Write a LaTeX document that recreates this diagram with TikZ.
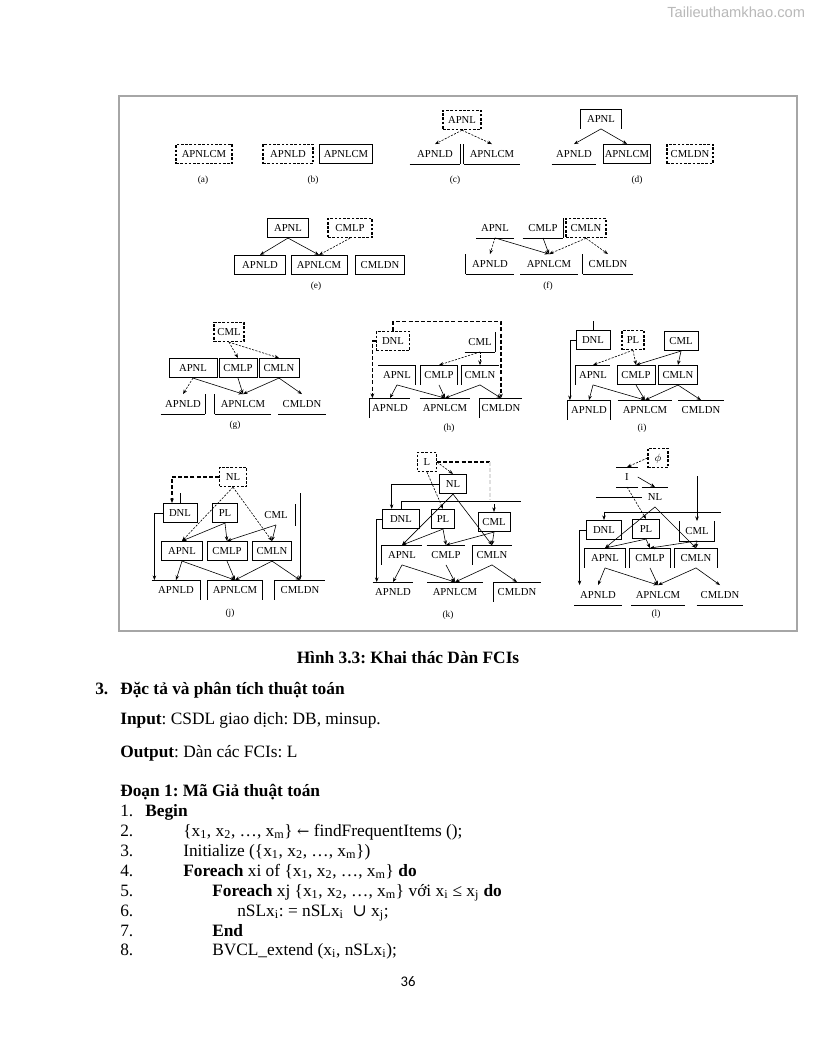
\documentclass[tikz,border=0pt]{standalone}
\usepackage{fontspec}
\setmainfont{Liberation Serif}
\newfontfamily\symfont{DejaVu Serif}
\newfontfamily\pagefont{Carlito}
\newfontfamily\wmfont{Liberation Sans}
\usetikzlibrary{arrows.meta,calc}
\frenchspacing
\newcommand{\ff}{\fontsize{8}{9}\selectfont}
\newcommand{\sbs}[1]{\textsubscript{#1}}
\newcommand{\edgeS}[1]{\draw[ln] (#1.south west) -- (#1.south east);}
\newcommand{\edgeN}[1]{\draw[ln] (#1.north west) -- (#1.north east);}
\newcommand{\edgeW}[1]{\draw[ln] (#1.north west) -- (#1.south west);}
\newcommand{\edgeE}[1]{\draw[ln] (#1.north east) -- (#1.south east);}
\begin{document}
\begin{tikzpicture}[x=0.75pt,y=-0.75pt,
  nd/.style={font=\ff, inner sep=0pt, minimum height=14.5pt, text height=5.4pt, text depth=0pt, minimum width={#1*0.75pt}},
  nd/.default=40,
  sb/.style={nd=#1, draw, line width=0.6pt}, sb/.default=40,
  db/.style={nd=#1, draw, dash pattern=on 2pt off 1.2pt, line width=0.8pt}, db/.default=40,
  ln/.style={line width=0.6pt},
  ar/.style={line width=0.45pt, -{Stealth[length=3.4pt,width=2.6pt]}},
  da/.style={ar, dash pattern=on 1.6pt off 1pt},
  dl/.style={line width=0.9pt, dash pattern=on 3pt off 1.6pt},
  dla/.style={dl, -{Stealth[length=3.4pt,width=2.8pt]}},
  plbl/.style={font=\fontsize{7}{8}\selectfont, inner sep=0pt},
  body/.style={font=\fontsize{13}{15}\selectfont, inner sep=0pt, anchor=base west}]
\useasboundingbox (0,0) rectangle (816,1056);
\fill[white] (0,0) rectangle (816,1056);
\node[anchor=base west, inner sep=0pt, font=\wmfont\fontsize{11}{13}\selectfont, text=gray!55] (wm) at (667,18) {Tailieuthamkhao.com};
\draw[line width=0.8pt, draw=gray!70] (119,96) rectangle (797,631);

% (a)
\node[db=56] (a1) at (204,154) {APNLCM};
\node[plbl] (la) at (203,180) {(a)};
% (b)
\node[db=50, line width=1.1pt] (b1) at (288,154) {APNLD};
\node[sb=53] (b2) at (346,154) {APNLCM};
\node[plbl] (lb) at (313,180) {(b)};
% (c)
\node[db=38] (c0) at (462,120) {APNL};
\node[nd=50] (c1) at (435,154) {APNLD}; \edgeS{c1}\edgeE{c1}
\node[nd=56] (c2) at (492,154) {APNLCM}; \edgeW{c2}\edgeS{c2}
\draw[da] (c0.south) -- (c1.north);
\draw[da] (c0.south) -- (c2.north);
\node[plbl] (lc) at (455,180) {(c)};
% (d)
\node[nd=40] (d0) at (601,119) {APNL}; \edgeN{d0}\edgeW{d0}\edgeE{d0}
\node[nd=44] (d1) at (574,154) {APNLD}; \edgeS{d1}
\node[sb=47] (d2) at (627,154) {APNLCM};
\node[db=46] (d3) at (690,154) {CMLDN};
\draw[ar] (d0.south) -- (d1.north);
\draw[ar] (d0.south) -- (d2.north);
\node[plbl] (ld) at (637,180) {(d)};

% (e)
\node[sb=41] (e0) at (288,228) {APNL};
\node[db=44] (e1) at (350,228) {CMLP};
\node[sb=51] (e2) at (260,265) {APNLD};
\node[sb=56] (e3) at (319,265) {APNLCM};
\node[sb=49] (e4) at (380,265) {CMLDN};
\draw[ar] (e0.south) -- (e2.north);
\draw[ar] (e0.south) -- (e3.north);
\draw[da] (e1.south) -- (e3.north);
\node[plbl] (le) at (316,286) {(e)};
% (f)
\node[nd=37] (f0) at (495,228) {APNL}; \edgeS{f0}
\node[nd=40] (f1) at (543,228) {CMLP}; \edgeS{f1}\edgeE{f1}
\node[db=40] (f2) at (586,228) {CMLN};
\node[nd=48] (f3) at (490,264) {APNLD}; \edgeW{f3}\edgeS{f3}
\node[nd=57] (f4) at (549,264) {APNLCM}; \edgeS{f4}
\node[nd=50] (f5) at (608,264) {CMLDN}; \edgeW{f5}\edgeS{f5}
\draw[da] (f0.south) -- (f3.north);
\draw[ar] (f0.south) -- (f4.north);
\draw[ar] (f1.south) -- (f4.north);
\draw[da] (f2.south) -- (f4.north);
\draw[da] (f2.south) -- (f5.north);
\node[plbl] (lf) at (548,286) {(f)};

% (g)
\node[db=30] (g0) at (229,332) {CML};
\node[sb=48] (g1) at (193,368) {APNL};
\node[sb=38] (g2) at (238,368) {CMLP};
\node[sb=40] (g3) at (279,368) {CMLN};
\node[nd=44] (g4) at (183,404) {APNLD}; \edgeS{g4}\edgeE{g4}
\node[nd=56] (g5) at (243,404) {APNLCM}; \edgeW{g5}\edgeS{g5}
\node[nd=47] (g6) at (302,404) {CMLDN}; \edgeS{g6}
\draw[da] (g0.south) -- (g2.north);
\draw[da] (g0.south) -- (g3.north);
\draw[da] (g1.south) -- (g4.north);
\draw[ar] (g1.south) -- (g5.north);
\draw[ar] (g2.south) -- (g5.north);
\draw[ar] (g3.south) -- (g5.north);
\draw[ar] (g3.south) -- (g6.north);
\node[plbl] (lg) at (235,425) {(g)};
% (h)
\node[db=33] (h0) at (393,341) {DNL};
\node[nd=30] (h1) at (480,342) {CML}; \edgeS{h1}\edgeE{h1}
\node[nd=37] (h2) at (397,375) {APNL}; \edgeN{h2}\edgeE{h2}
\node[nd=37] (h3) at (439,375) {CMLP}; \edgeN{h3}\edgeW{h3}\edgeE{h3}
\node[nd=37] (h4) at (480,375) {CMLN}; \edgeN{h4}\edgeW{h4}
\node[nd=40] (h5) at (390,408) {APNLD}; \edgeN{h5}\edgeW{h5}
\node[nd=50] (h6) at (445,408) {APNLCM}; \edgeN{h6}
\node[nd=42] (h7) at (501,408) {CMLDN}; \edgeN{h7}\edgeW{h7}
\draw[dla] (h0.north) -- ++(0,-9) -| (h7.north);
\draw[dla] (h0.west) -| ([xshift=2pt]h5.north west);
\draw[da] (h1.south) -- (h3.north);
\draw[da] (h1.south) -- (h4.north);
\draw[ar] (h2.south) -- (h5.north);
\draw[ar] (h2.south) -- (h6.north);
\draw[ar] (h3.south) -- (h6.north);
\draw[ar] (h4.south) -- (h6.north);
\draw[ar] (h4.south) -- (h7.north);
\node[plbl] (lh) at (449,428) {(h)};
% (i)
\node[sb=34] (i0) at (593,340) {DNL}; \draw[ln] (i0.north) -- ++(0,-9);
\node[db=22] (i1) at (633,340) {PL};
\node[sb=34] (i2) at (681,341) {CML};
\node[nd=34] (i3) at (593,375) {APNL}; \edgeW{i3}\edgeN{i3}
\node[sb=38] (i4) at (636,375) {CMLP};
\node[sb=39] (i5) at (678,375) {CMLN};
\node[nd=43] (i6) at (589,410) {APNLD}; \edgeW{i6}\edgeN{i6}\edgeE{i6}
\node[nd=54] (i7) at (645,410) {APNLCM}; \edgeN{i7}
\node[nd=45] (i8) at (701,410) {CMLDN}; \edgeN{i8}
\draw[ar] (i0.west) -| ([xshift=2pt]i6.north west);
\draw[da] (i1.south) -- (i3.north);
\draw[da] (i1.south) -- (i4.north);
\draw[ar] (i2.south) -- (i4.north);
\draw[ar] (i2.south) -- (i5.north);
\draw[ar] (i3.south) -- (i6.north);
\draw[ar] (i3.south) -- (i7.north);
\draw[ar] (i4.south) -- (i7.north);
\draw[ar] (i5.south) -- (i7.north);
\draw[ar] (i5.south) -- (i8.north);
\node[plbl] (li) at (642,428) {(i)};

% (j)
\node[db=27] (j0) at (233,477) {NL};
\node[sb=34] (j1) at (180,513) {DNL}; \draw[ln] (j1.north) -- ++(0,-10);
\node[sb=25] (j2) at (225,513) {PL};
\node[nd=26] (j3) at (276,515) {CML}; \draw[ln] ($(j3.east)+(6,-11)$) -- ++(0,22);
\node[sb=41] (j4) at (182,551) {APNL};
\node[sb=40] (j5) at (227,551) {CMLP};
\node[sb=39] (j6) at (272,551) {CMLN};
\node[nd=48] (j7) at (176,590) {APNLD}; \edgeN{j7}\edgeE{j7}
\node[nd=54] (j8) at (235,590) {APNLCM}; \edgeW{j8}\edgeN{j8}\edgeE{j8}
\node[nd=50] (j9) at (300,590) {CMLDN}; \edgeN{j9}\edgeW{j9}
\draw[dla] (j0.west) -| ([xshift=-6pt]j1.north);
\draw[ar] (j1.west) -| ([xshift=2pt]j7.north west);
\draw[ar] ($(j9.north)+(0,-87)$) -- (j9.north);
\draw[da] (j0.south) -- (j4.north);
\draw[da] (j0.south) -- (j6.north);
\draw[ar] (j2.south) -- (j4.north);
\draw[ar] (j2.south) -- (j5.north);
\draw[ar] (j3.south) -- (j5.north);
\draw[ar] (j3.south) -- (j6.north);
\draw[ar] (j4.south) -- (j7.north);
\draw[ar] (j4.south) -- (j8.north);
\draw[ar] (j5.south) -- (j8.north);
\draw[ar] (j6.south) -- (j8.north);
\draw[ar] (j6.south) -- (j9.north);
\node[plbl] (lj) at (230,613) {(j)};
% (k)
\node[db=19] (k0) at (427,462) {L};
\node[sb=27] (k1) at (453,484) {NL};
\node[sb=37] (k2) at (401,519) {DNL};
\node[sb=23] (k3) at (443,519) {PL};
\node[sb=32] (k4) at (494,522) {CML};
\node[nd=40] (k5) at (402,555) {APNL}; \edgeN{k5}\edgeW{k5}
\node[nd=38] (k6) at (446,555) {CMLP}; \edgeN{k6}
\node[nd=39] (k7) at (492,555) {CMLN}; \edgeN{k7}\edgeW{k7}
\node[nd=40] (k8) at (393,592) {APNLD}; \edgeN{k8}
\node[nd=55] (k9) at (455,592) {APNLCM}; \edgeN{k9}
\node[nd=47] (k10) at (517,592) {CMLDN}; \edgeN{k10}\edgeW{k10}
\draw[dl] (k0.east) -- ++(53,0);
\draw[dl, draw=gray!25] ($(k0.east)+(53,0)$) -- ++(0,38);
\draw[da] (k0.east) -- (k1.north);
\draw[da] (k0.south) -- (k3.north);
\draw[ar] (k1.west) -| ([xshift=-7pt]k2.north);
\draw[ln] (k2.north) -- ++(0,-8) -- ++(120,0);
\draw[ar] (k4.north) ++(0,-8) -- (k4.north);
\draw[ar] (k2.west) -| ([xshift=3pt]k8.north west);
\draw[ar] (k1.south) -- (k5.north);
\draw[ar] (k1.south) -- (k7.north);
\draw[ar] (k3.south) -- (k5.north);
\draw[ar] (k3.south) -- (k6.north);
\draw[ar] (k4.south) -- (k6.north);
\draw[ar] (k4.south) -- (k7.north);
\draw[ar] (k5.south) -- (k8.north);
\draw[ar] (k5.south) -- (k9.north);
\draw[ar] (k6.south) -- (k9.north);
\draw[ar] (k7.south) -- (k9.north);
\draw[ar] (k7.south) -- (k10.north);
\node[plbl] (lk) at (448,615) {(k)};
% (l)
\node[db=20] (l0) at (658,458) {$\phi$};
\node[nd=21] (l1) at (627,477) {I}; \edgeN{l1}\edgeS{l1}
\node[nd=26] (l2) at (655,497) {NL}; \edgeN{l2}\draw[ln] (l2.west) -- ++(-46,0);
\node[sb=35] (l3) at (604,530) {DNL};
\node[sb=27] (l4) at (646,529) {PL};
\node[nd=35] (l5) at (697,531) {CML}; \edgeW{l5}\edgeS{l5}\edgeE{l5}
\node[nd=40] (l6) at (605,558) {APNL}; \edgeW{l6}\edgeN{l6}\edgeE{l6}
\node[nd=40] (l7) at (650,558) {CMLP}; \edgeW{l7}\edgeN{l7}\edgeE{l7}
\node[nd=42] (l8) at (696,558) {CMLN}; \edgeW{l8}\edgeN{l8}\edgeE{l8}
\node[nd=47] (l9) at (598,595) {APNLD}; \edgeS{l9}
\node[nd=53] (l10) at (658,595) {APNLCM}; \edgeS{l10}
\node[nd=46] (l11) at (720,595) {CMLDN}; \edgeS{l11}
\draw[da] (l0.west) -- (l1.north);
\draw[ar] (l1.east) -- (l2.north);
\draw[da] (l1.south) -- (l4.north);
\draw[ar] (l5.north) ++(0,-45) -- (l5.north);
\draw[ln] (l3.north) ++(0,-8) -- ++(117,0);
\draw[ar] (l3.north) ++(0,-8) -- (l3.north);
\draw[ar] (l3.west) -| ([xshift=4pt]l9.north west);
\draw[ar] (l2.south) -- (l6.north);
\draw[ar] (l2.south) -- (l8.north);
\draw[ar] (l4.south) -- (l6.north);
\draw[ar] (l4.south) -- (l7.north);
\draw[ar] (l5.south) -- (l7.north);
\draw[ar] (l5.south) -- (l8.north);
\draw[ar] (l6.south) -- (l9.north);
\draw[ar] (l6.south) -- (l10.north);
\draw[ar] (l7.south) -- (l10.north);
\draw[ar] (l8.south) -- (l10.north);
\draw[ar] (l8.south) -- (l11.north);
\node[plbl] (ll) at (656,614) {(l)};

% text
\node[body, anchor=base, font=\fontsize{13}{15}\selectfont\bfseries] (cap) at (408,663) {Hình 3.3: Khai thác Dàn FCIs};
\node[body, font=\fontsize{13}{15}\selectfont\bfseries] (s3n) at (95,694) {3.};
\node[body, font=\fontsize{13}{15}\selectfont\bfseries] (s3) at (120,694) {Đặc tả và phân tích thuật toán};
\node[body] (inp) at (120,724) {\textbf{Input}: CSDL giao dịch: DB, minsup.};
\node[body] (outp) at (120,757) {\textbf{Output}: Dàn các FCIs: L};
\node[body, font=\fontsize{13}{15}\selectfont\bfseries] (doan) at (120,796) {Đoạn 1: Mã Giả thuật toán};
\node[body] (n1) at (120,816) {1.};
\node[body] (t1) at (145,816) {\textbf{Begin}};
\node[body] (n2) at (120,836) {2.};
\node[body] (t2) at (183,836) {\{x\sbs{1}, x\sbs{2}, …, x\sbs{m}\} {\symfont\fontsize{11}{13}\selectfont ←} findFrequentItems ();};
\node[body] (n3) at (120,856) {3.};
\node[body] (t3) at (183,856) {Initialize (\{x\sbs{1}, x\sbs{2}, …, x\sbs{m}\})};
\node[body] (n4) at (120,876) {4.};
\node[body] (t4) at (183,876) {\textbf{Foreach} xi of \{x\sbs{1}, x\sbs{2}, …, x\sbs{m}\} \textbf{do}};
\node[body] (n5) at (120,896) {5.};
\node[body] (t5) at (212,896) {\textbf{Foreach} xj \{x\sbs{1}, x\sbs{2}, …, x\sbs{m}\} với x\sbs{i} ≤ x\sbs{j} \textbf{do}};
\node[body] (n6) at (120,916) {6.};
\node[body] (t6) at (237,916) {nSLx\sbs{i}: = nSLx\sbs{i} \ {\symfont ∪} x\sbs{j};};
\node[body] (n7) at (120,936) {7.};
\node[body] (t7) at (212,936) {\textbf{End}};
\node[body] (n8) at (120,955) {8.};
\node[body] (t8) at (212,955) {BVCL\_extend (x\sbs{i}, nSLx\sbs{i});};
\node[body, anchor=base, font=\pagefont\fontsize{11}{13}\selectfont] (pg) at (408,986) {36};
\end{tikzpicture}
\end{document}
